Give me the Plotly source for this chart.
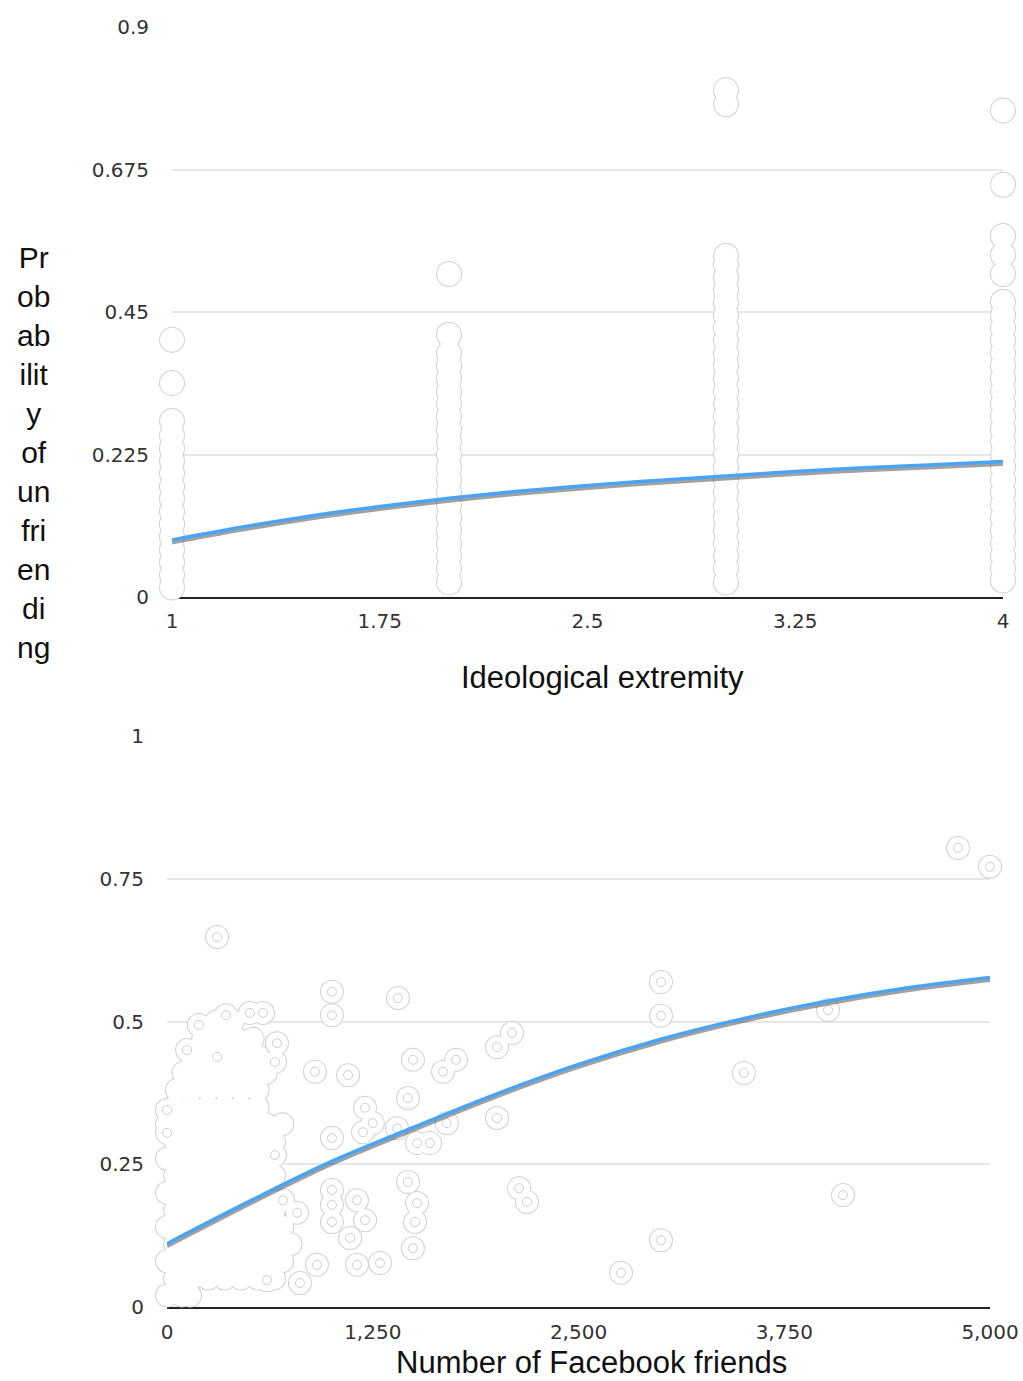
import plotly.graph_objects as go

# ---------------- data: top panel (ideological extremity) ----------------
extremity_tickvals = [1, 1.75, 2.5, 3.25, 4]
extremity_ticktext = ["1", "1.75", "2.5", "3.25", "4"]
prob_top_tickvals = [0, 0.225, 0.45, 0.675, 0.9]
prob_top_ticktext = ["0", "0.225", "0.45", "0.675", "0.9"]

extremity_levels = [1, 2, 3, 4]
prob_at_level_1 = [0.015, 0.035, 0.055, 0.075, 0.095, 0.115, 0.135, 0.155, 0.175, 0.195,
                   0.215, 0.235, 0.255, 0.278, 0.338, 0.406]
prob_at_level_2 = [0.023, 0.045, 0.065, 0.085, 0.105, 0.125, 0.145, 0.165, 0.185, 0.205,
                   0.225, 0.245, 0.265, 0.285, 0.305, 0.325, 0.345, 0.365, 0.385, 0.414, 0.51]
prob_at_level_3 = [0.023, 0.045, 0.065, 0.085, 0.105, 0.125, 0.145, 0.165, 0.185, 0.205,
                   0.225, 0.245, 0.265, 0.285, 0.305, 0.325, 0.345, 0.365, 0.385, 0.405,
                   0.425, 0.445, 0.465, 0.485, 0.505, 0.525, 0.539, 0.778, 0.80]
prob_at_level_4 = [0.026, 0.045, 0.065, 0.085, 0.105, 0.125, 0.145, 0.165, 0.185, 0.205,
                   0.225, 0.245, 0.265, 0.285, 0.305, 0.325, 0.345, 0.365, 0.385, 0.405,
                   0.425, 0.445, 0.466, 0.51, 0.54, 0.57, 0.651, 0.768]

fit_extremity_x = [1, 1.25, 1.5, 1.75, 2, 2.25, 2.5, 2.75, 3, 3.25, 3.5, 3.75, 4]
fit_extremity_y = [0.090, 0.110, 0.128, 0.143, 0.156, 0.167, 0.176, 0.184, 0.191, 0.198,
                   0.204, 0.209, 0.214]

# ---------------- data: bottom panel (Facebook friends) ----------------
friends_tickvals = [0, 1250, 2500, 3750, 5000]
friends_ticktext = ["0", "1,250", "2,500", "3,750", "5,000"]
prob_bot_tickvals = [0, 0.25, 0.5, 0.75, 1]
prob_bot_ticktext = ["0", "0.25", "0.5", "0.75", "1"]

# clearly visible respondents (drawn with inner ring)
clear_friends = [304, 1002, 1002, 1403, 194, 358, 504, 583, 668, 656, 122, 304, 899, 1100,
                 1494, 1677, 1756, 1203, 1464, 0, 0, 1002, 1191, 1397, 1519, 1598, 1464,
                 1519, 1507, 1494, 1154, 1002, 1002, 1002, 1203, 1112, 1154, 1294, 911, 808,
                 608, 705, 790, 656, 2005, 2096, 2005, 2139, 2187, 2758, 3001, 3001, 3001,
                 3505, 4016, 4107, 4806, 5000, 1700, 1250]
clear_prob = [0.648, 0.552, 0.511, 0.541, 0.494, 0.511, 0.515, 0.515, 0.462, 0.429, 0.450,
              0.438, 0.412, 0.406, 0.433, 0.412, 0.433, 0.349, 0.366, 0.345, 0.305, 0.296,
              0.306, 0.313, 0.287, 0.287, 0.219, 0.182, 0.149, 0.103, 0.187, 0.205, 0.179,
              0.149, 0.152, 0.121, 0.074, 0.077, 0.074, 0.042, 0.047, 0.187, 0.165, 0.266,
              0.455, 0.480, 0.331, 0.208, 0.184, 0.060, 0.569, 0.510, 0.117, 0.410, 0.520,
              0.196, 0.804, 0.771, 0.322, 0.322]

# densely overlapping respondents near the origin (rows of equal probability)
dense_row_prob = [0.02, 0.05, 0.08, 0.11, 0.14, 0.17, 0.20, 0.23, 0.26, 0.29, 0.32, 0.35,
                  0.38, 0.41, 0.44, 0.47, 0.50]
dense_row_friends = [
    [0, 90, 140],
    [50, 150, 250, 350, 450, 550, 650],
    [0, 100, 200, 300, 400, 500, 600, 700],
    [50, 150, 250, 350, 450, 550, 650, 750],
    [0, 100, 200, 300, 400, 500, 600, 700],
    [50, 150, 250, 350, 450, 550, 650],
    [0, 100, 200, 300, 400, 500, 600],
    [50, 150, 250, 350, 450, 550, 650],
    [0, 100, 200, 300, 400, 500, 600],
    [50, 150, 250, 350, 450, 550, 650],
    [0, 100, 200, 300, 400, 500, 600, 700],
    [50, 150, 250, 350, 450, 550],
    [60, 150, 250, 350, 450, 550],
    [100, 200, 300, 400, 500, 600],
    [150, 250, 350, 450, 550],
    [220, 320, 420, 520],
    [300, 400],
]

fit_friends_x = [0, 500, 1000, 1500, 2000, 2500, 3000, 3500, 4000, 4500, 5000]
fit_friends_y = [0.111, 0.185, 0.255, 0.315, 0.373, 0.425, 0.469, 0.505, 0.535, 0.559, 0.577]

# ---------------- build ----------------
W, H = 1023, 1381
OUTLINE = "#d0d0d0"
RING = "#cfcfcf"
BLUE = "#4aa4f4"
SHADOW = "rgba(30,30,30,0.42)"

top_x, top_y = [], []
for lvl, vals in zip(extremity_levels,
                     [prob_at_level_1, prob_at_level_2, prob_at_level_3, prob_at_level_4]):
    top_x += [lvl] * len(vals)
    top_y += vals

dense_x, dense_y = [], []
for p, xs in zip(dense_row_prob, dense_row_friends):
    dense_x += xs
    dense_y += [p] * len(xs)

all_bx = dense_x + clear_friends
all_by = dense_y + clear_prob

fig = go.Figure()

# top panel markers: outline layer then white fill layer (merges overlaps into pills)
fig.add_trace(go.Scatter(x=top_x, y=top_y, mode="markers", xaxis="x", yaxis="y",
                         marker=dict(size=26, color=OUTLINE, line=dict(width=0)),
                         cliponaxis=False, showlegend=False, hoverinfo="skip"))
fig.add_trace(go.Scatter(x=top_x, y=top_y, mode="markers", xaxis="x", yaxis="y",
                         marker=dict(size=24, color="white", line=dict(width=0)),
                         cliponaxis=False, showlegend=False, hoverinfo="skip"))
fig.add_trace(go.Scatter(x=fit_extremity_x, y=fit_extremity_y, mode="lines", xaxis="x", yaxis="y3",
                         line=dict(color=SHADOW, width=4, shape="spline"),
                         cliponaxis=False, showlegend=False, hoverinfo="skip"))
fig.add_trace(go.Scatter(x=fit_extremity_x, y=fit_extremity_y, mode="lines", xaxis="x", yaxis="y4",
                         line=dict(color=BLUE, width=3.5, shape="spline"),
                         cliponaxis=False, showlegend=False, hoverinfo="skip"))

# bottom panel markers
fig.add_trace(go.Scatter(x=all_bx, y=all_by, mode="markers", xaxis="x2", yaxis="y2",
                         marker=dict(size=24, color=OUTLINE, line=dict(width=0)),
                         cliponaxis=False, showlegend=False, hoverinfo="skip"))
fig.add_trace(go.Scatter(x=all_bx, y=all_by, mode="markers", xaxis="x2", yaxis="y2",
                         marker=dict(size=22, color="white", line=dict(width=0)),
                         cliponaxis=False, showlegend=False, hoverinfo="skip"))
fig.add_trace(go.Scatter(x=clear_friends, y=clear_prob, mode="markers", xaxis="x2", yaxis="y2",
                         marker=dict(size=9, symbol="circle-open", color=RING,
                                     line=dict(width=1, color=RING)),
                         cliponaxis=False, showlegend=False, hoverinfo="skip"))
fig.add_trace(go.Scatter(x=fit_friends_x, y=fit_friends_y, mode="lines", xaxis="x2", yaxis="y5",
                         line=dict(color=SHADOW, width=4, shape="spline"),
                         cliponaxis=False, showlegend=False, hoverinfo="skip"))
fig.add_trace(go.Scatter(x=fit_friends_x, y=fit_friends_y, mode="lines", xaxis="x2", yaxis="y6",
                         line=dict(color=BLUE, width=3.5, shape="spline"),
                         cliponaxis=False, showlegend=False, hoverinfo="skip"))

tickfont = dict(family="DejaVu Sans", size=20, color="#333")
GRID = "#e7e7e7"

top_dom_y = [1 - 597 / H, 1 - 27 / H]
bot_dom_y = [1 - 1307 / H, 1 - 736 / H]
shift_top = 2.5 / ((top_dom_y[1] - top_dom_y[0]) * H) * 0.9
shift_bot = 2.5 / ((bot_dom_y[1] - bot_dom_y[0]) * H) * 1.0

hidden = dict(visible=False, automargin=False)

fig.update_layout(
    width=W, height=H,
    margin=dict(l=0, r=0, t=0, b=0, pad=0, autoexpand=False),
    paper_bgcolor="white", plot_bgcolor="white",
    hovermode=False,
    xaxis=dict(domain=[172 / W, 1003 / W], range=[1, 4], anchor="y", automargin=False,
               tickvals=extremity_tickvals, ticktext=extremity_ticktext,
               showgrid=False, zeroline=False, showline=True, linecolor="#222", linewidth=2,
               layer="below traces", ticks="", tickfont=tickfont, ticklabelstandoff=5),
    yaxis=dict(domain=top_dom_y, range=[0, 0.9], anchor="x", automargin=False,
               tickvals=prob_top_tickvals, ticktext=prob_top_ticktext,
               showgrid=True, gridcolor=GRID, gridwidth=2, zeroline=False, showline=False,
               layer="below traces", ticks="", tickfont=tickfont, ticklabelstandoff=22),
    yaxis3=dict(overlaying="y", anchor="x", range=[shift_top, 0.9 + shift_top], **hidden),
    yaxis4=dict(overlaying="y", anchor="x", range=[0, 0.9], **hidden),
    xaxis2=dict(domain=[167 / W, 990 / W], range=[0, 5000], anchor="y2", automargin=False,
                tickvals=friends_tickvals, ticktext=friends_ticktext,
                showgrid=False, zeroline=False, showline=True, linecolor="#222", linewidth=2,
                layer="below traces", ticks="", tickfont=tickfont, ticklabelstandoff=6),
    yaxis2=dict(domain=bot_dom_y, range=[0, 1], anchor="x2", automargin=False,
                tickvals=prob_bot_tickvals, ticktext=prob_bot_ticktext,
                showgrid=True, gridcolor=GRID, gridwidth=2, zeroline=False, showline=False,
                layer="below traces", ticks="", tickfont=tickfont, ticklabelstandoff=22),
    yaxis5=dict(overlaying="y2", anchor="x2", range=[shift_bot, 1 + shift_bot], **hidden),
    yaxis6=dict(overlaying="y2", anchor="x2", range=[0, 1], **hidden),
)

xtitle_font = dict(family="Liberation Sans", size=31, color="#111")
ytitle_font = dict(family="Liberation Sans", size=30, color="#111")
fig.add_annotation(text="Ideological extremity", xref="paper", yref="paper",
                   x=602 / W, y=1 - 677 / H, xanchor="center", yanchor="middle",
                   showarrow=False, font=xtitle_font)
fig.add_annotation(text="Number of Facebook friends", xref="paper", yref="paper",
                   x=591 / W, y=1 - 1362 / H, xanchor="center", yanchor="middle",
                   showarrow=False, font=xtitle_font)
fig.add_annotation(text="Pr<br>ob<br>ab<br>ilit<br>y<br>of<br>un<br>fri<br>en<br>di<br>ng",
                   xref="paper", yref="paper", x=33 / W, y=1 - 452 / H,
                   xanchor="center", yanchor="middle", align="center",
                   showarrow=False, font=ytitle_font)

fig.write_html("out.html", config={"displayModeBar": False},
               post_script="document.body.style.margin='0';")
